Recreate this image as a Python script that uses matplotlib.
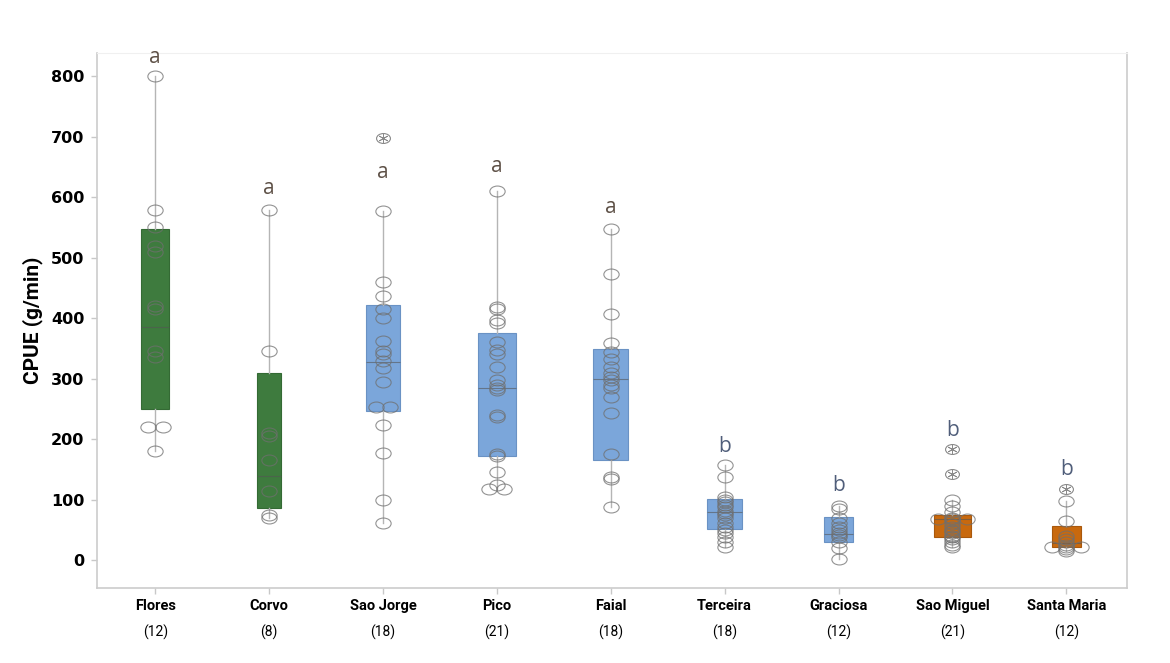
import numpy as np
import matplotlib
matplotlib.use("Agg")
import matplotlib.pyplot as plt
from matplotlib.path import Path
from matplotlib.transforms import Affine2D, blended_transform_factory

# ==========================================
# DATA
# ==========================================
islands = ['Flores', 'Corvo', 'Sao Jorge', 'Pico', 'Faial',
           'Terceira', 'Graciosa', 'Sao Miguel', 'Santa Maria']
counts = [12, 8, 18, 21, 18, 18, 12, 21, 12]
groups = ['west', 'west', 'central', 'central', 'central',
          'central', 'central', 'east', 'east']

q1 = [250, 86, 246, 173, 165, 51, 30, 38, 22]
med = [385, 140, 327, 284, 299, 79, 43, 68, 28]
q3 = [547, 309, 421, 375, 349, 102, 72, 75, 56]
whislo = [181, 70, 61, 117, 88, 22, 2, 22, 15]
whishi = [800, 578, 577, 610, 547, 158, 90, 100, 98]

obs = [
    [800, 578, 550, 520, 510, 420, 415, 345, 335, 220, 220, 181],
    [578, 345, 210, 205, 165, 115, 75, 70],
    [577, 460, 437, 415, 400, 363, 345, 340, 330, 317, 294, 254, 254,
     223, 178, 99, 61],
    [610, 418, 415, 397, 392, 360, 347, 340, 320, 297, 290, 284, 281,
     240, 237, 175, 172, 145, 125, 117, 117],
    [547, 473, 407, 359, 344, 332, 319, 310, 303, 298, 289, 284, 270,
     243, 176, 137, 135, 88],
    [158, 138, 105, 100, 97, 92, 88, 82, 78, 74, 70, 62, 55, 50, 45,
     38, 30, 22],
    [90, 85, 70, 62, 55, 50, 45, 42, 38, 30, 20, 2],
    [100, 90, 80, 70, 68, 68, 68, 65, 60, 55, 50, 48, 45, 40, 38, 35,
     30, 25, 22],
    [98, 65, 40, 35, 30, 25, 22, 22, 22, 18, 15],
]
outliers = [[], [], [697], [], [], [], [], [183, 142], [118]]

letters = ['a', 'a', 'a', 'a', 'a', 'b', 'b', 'b', 'b']
letter_y = [830, 615, 640, 651, 583, 188, 124, 215, 150]

# ==========================================
# STYLE
# ==========================================
group_colors = {'west': '#3e7b3e', 'central': '#7ba6da', 'east': '#c8690e'}
edge_colors = {'west': '#346a34', 'central': '#6a92c4', 'east': '#a9580c'}
letter_colors = {'a': '#5e5147', 'b': '#505e7a'}
ellipse = Path.unit_circle().transformed(Affine2D().scale(1.4, 1.0))

fig = plt.figure(figsize=(11.7, 6.63), dpi=100)
ax = fig.add_axes([0.083, 0.113, 0.880, 0.807])

pos = np.arange(len(islands))
widths = [0.072 * np.sqrt(n) for n in counts]

stats = []
for i, name in enumerate(islands):
    stats.append(dict(label=name, med=med[i], q1=q1[i], q3=q3[i],
                      whislo=whislo[i], whishi=whishi[i], fliers=[]))

bp = ax.bxp(stats, positions=pos, widths=widths, showcaps=False,
            showfliers=False, patch_artist=True,
            whiskerprops=dict(color='#b5b5b5', linewidth=1.0),
            medianprops=dict(color='#555555', linewidth=0.8, alpha=0.6),
            boxprops=dict(linewidth=0.8), zorder=2)
for i, box in enumerate(bp['boxes']):
    box.set_facecolor(group_colors[groups[i]])
    box.set_edgecolor(edge_colors[groups[i]])

# individual observations as open ellipses; ties are put side by side
for i, vals in enumerate(obs):
    xs, ys = [], []
    for v in sorted(set(vals)):
        m = vals.count(v)
        for k in range(m):
            xs.append(pos[i] + (k - (m - 1) / 2) * 0.13)
            ys.append(v)
    ax.plot(xs, ys, linestyle='none', marker=ellipse, markersize=11,
            markerfacecolor='none', markeredgecolor='#6f6f6f',
            markeredgewidth=0.8, alpha=0.75, zorder=3)
    if outliers[i]:
        ox = [pos[i]] * len(outliers[i])
        ax.plot(ox, outliers[i], linestyle='none', marker=ellipse,
                markersize=10, markerfacecolor='none',
                markeredgecolor='#8a8a8a', markeredgewidth=0.8, zorder=3)
        ax.plot(ox, outliers[i], linestyle='none', marker=(6, 2, 0),
                markersize=7, markeredgecolor='#8a8a8a',
                markeredgewidth=0.6, zorder=3)

for i, let in enumerate(letters):
    ax.text(pos[i], letter_y[i], let, ha='center', va='center',
            fontsize=15, color=letter_colors[let], family='Open Sans')

# ==========================================
# AXES
# ==========================================
ax.set_xlim(-0.51, 8.53)
ax.set_ylim(-46, 838)
ax.set_yticks([0, 100, 200, 300, 400, 500, 600, 700, 800])
ax.set_yticklabels(['0', '100', '200', '300', '400', '500', '600',
                    '700', '800'], fontsize=11.5, fontweight='bold',
                   family='DejaVu Sans')
ax.set_xticks(pos)
ax.set_xticklabels(islands, fontsize=10.5, fontweight='bold',
                   family='Roboto')
ax.tick_params(axis='both', color='#c8c8c8', length=4, width=1)
ax.tick_params(axis='x', pad=4)
ax.tick_params(axis='y', pad=5)

trans = blended_transform_factory(ax.transData, ax.transAxes)
for i, n in enumerate(counts):
    ax.text(pos[i], -0.068, '(%d)' % n, transform=trans, ha='center',
            va='top', fontsize=10, family='Roboto')

ax.set_ylabel('CPUE (g/min)', fontsize=15, family='Roboto',
              fontweight='bold', labelpad=6)

for side in ['left', 'bottom', 'right']:
    ax.spines[side].set_color('#cccccc')
    ax.spines[side].set_linewidth(1.2)
ax.spines['top'].set_color('#f0f0f0')

plt.savefig('out.png', dpi=100, facecolor='white')
